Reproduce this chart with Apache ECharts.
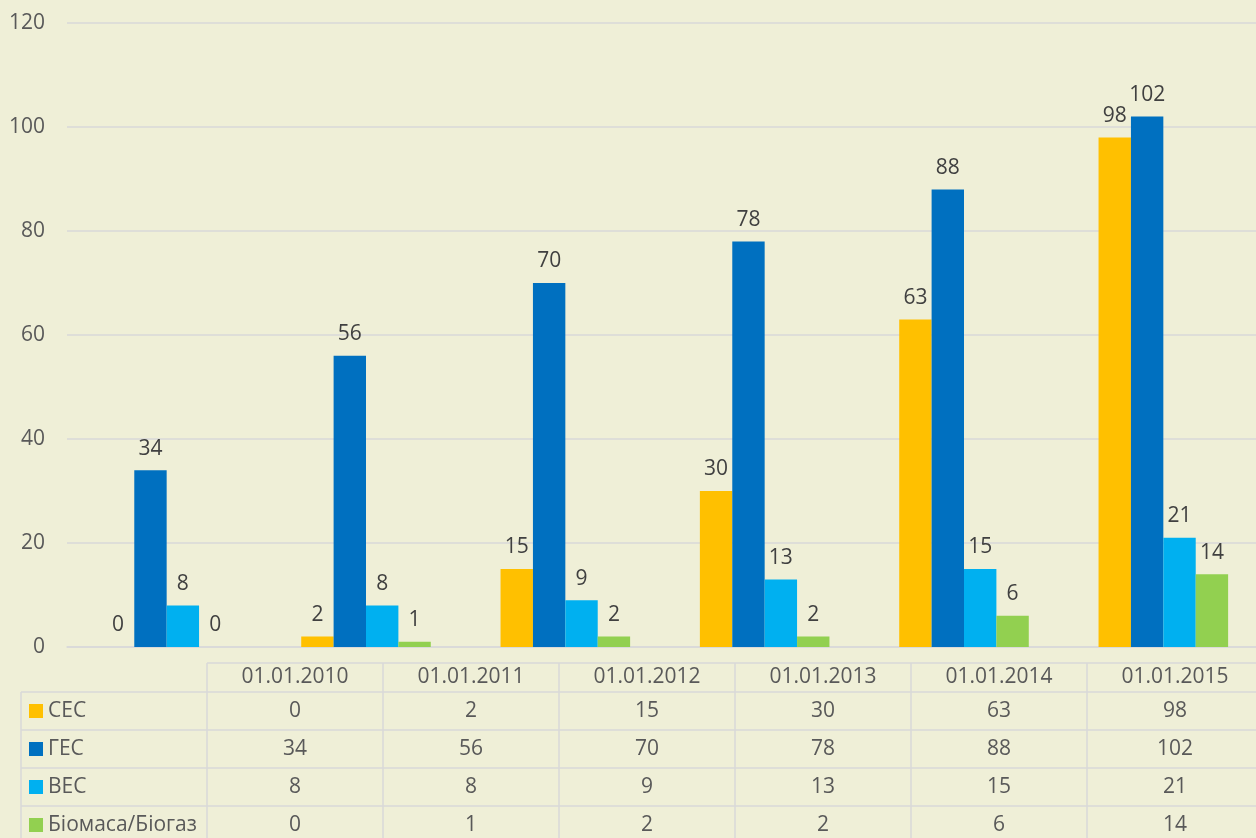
<!DOCTYPE html>
<html>
<head>
<meta charset="utf-8">
<script src="https://cdn.jsdelivr.net/npm/echarts@6/dist/echarts.min.js"></script>
<style>
  html, body { margin: 0; padding: 0; background: #EFEFD7; overflow: hidden; }
  #main { width: 1270px; height: 838px; }
</style>
</head>
<body>
<div id="main"></div>
<script>
// дані
var categories = ['01.01.2010', '01.01.2011', '01.01.2012', '01.01.2013', '01.01.2014', '01.01.2015'];
var seriesNames = ['СЕС', 'ГЕС', 'ВЕС', 'Біомаса/Біогаз'];
var sesValues = [0, 2, 15, 30, 63, 98];
var gesValues = [34, 56, 70, 78, 88, 102];
var vesValues = [8, 8, 9, 13, 15, 21];
var bioValues = [0, 1, 2, 2, 6, 14];
var yTicks = [0, 20, 40, 60, 80, 100, 120];

var colors = ['#FFC000', '#0070C0', '#00B0F0', '#92D050'];
var allValues = [sesValues, gesValues, vesValues, bioValues];
var fontFamily = '"Open Sans", sans-serif';
var textColor = '#595959';
var lineColor = '#D9D9D9';

// контейнер трохи ширший за вікно: таблиця й сітка в оригіналі обрізані справа
var myChart = echarts.init(document.getElementById('main'));

// таблиця даних під графіком
var tableLeft = 21, headLeft = 207, colW = 176;
var headTop = 663, headH = 29, rowH = 38;
var tableRight = headLeft + colW * categories.length;
var graphics = [];
function hline(x1, x2, y) {
    graphics.push({ type: 'line', silent: true,
        shape: { x1: x1, y1: y, x2: x2, y2: y },
        style: { stroke: lineColor, lineWidth: 1.5 } });
}
function vline(x, y1, y2) {
    graphics.push({ type: 'line', silent: true,
        shape: { x1: x, y1: y1, x2: x, y2: y2 },
        style: { stroke: lineColor, lineWidth: 1.5 } });
}
function cellText(x, y, str, align) {
    graphics.push({ type: 'text', silent: true, x: x, y: y,
        style: { text: str, fill: textColor, font: '21px ' + fontFamily,
                 align: align || 'center', verticalAlign: 'middle' } });
}
var bodyTop = headTop + headH;
hline(headLeft, tableRight, headTop);
for (var r = 0; r <= seriesNames.length; r++) {
    hline(tableLeft, tableRight, bodyTop + r * rowH);
}
vline(tableLeft, bodyTop, 838);
for (var c = 0; c <= categories.length; c++) {
    vline(headLeft + c * colW, headTop, 838);
}
categories.forEach(function (cat, i) {
    cellText(headLeft + colW * i + colW / 2, headTop + headH / 2, cat);
});
seriesNames.forEach(function (name, r) {
    var cy = bodyTop + r * rowH + rowH / 2;
    graphics.push({ type: 'rect', silent: true,
        shape: { x: 29, y: cy - 7, width: 14, height: 14 },
        style: { fill: colors[r] } });
    cellText(48, cy, name, 'left');
    allValues[r].forEach(function (v, i) {
        cellText(headLeft + colW * i + colW / 2, cy, String(v));
    });
});

var series = seriesNames.map(function (name, i) {
    return {
        name: name,
        type: 'bar',
        data: allValues[i],
        barGap: 0,
        barCategoryGap: '35%',
        itemStyle: { color: colors[i] },
        label: {
            show: true,
            position: 'top',
            distance: 11,
            color: '#404040',
            fontSize: 21,
            fontFamily: fontFamily
        }
    };
});

var option = {
    backgroundColor: '#EFEFD7',
    animation: false,
    grid: { left: 67, top: 23, width: 1196, height: 624 },
    xAxis: {
        type: 'category',
        data: categories,
        axisLine: { show: true, lineStyle: { color: lineColor, width: 1.5 } },
        axisTick: { show: false },
        axisLabel: { show: false }
    },
    yAxis: {
        type: 'value',
        min: yTicks[0],
        max: yTicks[yTicks.length - 1],
        interval: yTicks[1] - yTicks[0],
        axisLine: { show: false },
        axisTick: { show: false },
        splitLine: { lineStyle: { color: lineColor, width: 1.5 } },
        axisLabel: { color: textColor, fontSize: 21, fontFamily: fontFamily, margin: 22 }
    },
    series: series,
    graphic: graphics
};
myChart.setOption(option);
</script>
</body>
</html>
